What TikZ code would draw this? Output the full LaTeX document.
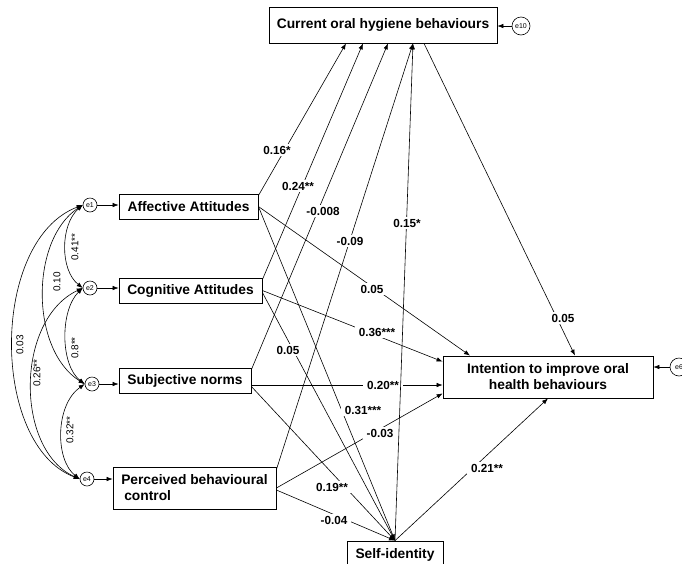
\documentclass[tikz,border=0pt]{standalone}
\usepackage{fontspec}
\setmainfont{Liberation Sans}
\usetikzlibrary{arrows.meta,calc}
\begin{document}
\begin{tikzpicture}[x=1pt,y=-1pt,
  box/.style={draw, line width=0.8pt, font=\fontsize{13.8}{16}\selectfont\bfseries, inner sep=0pt, anchor=center},
  err/.style={draw, circle, line width=0.6pt, inner sep=0pt, font=\fontsize{7}{8}\selectfont},
  reg/.style={line width=0.6pt, -{Latex[length=6pt,width=4.5pt]}},
  cov/.style={line width=0.6pt, {Latex[length=6pt,width=4.5pt]}-{Latex[length=6pt,width=4.5pt]}},
  coef/.style={fill=white, inner xsep=4pt, inner ysep=2pt, font=\fontsize{11.7}{13}\selectfont\bfseries},
  covlab/.style={rotate=90, inner sep=0pt, font=\fontsize{10}{12}\selectfont},
]
\useasboundingbox (0,0) rectangle (682,563);

% boxes
\node[box, minimum width=228pt, minimum height=36pt] (cur) at (383,25) {Current oral hygiene behaviours};
\node[box, minimum width=139pt, minimum height=25pt] (aff) at (188.5,206.5) {Affective Attitudes};
\node[box, minimum width=143pt, minimum height=25pt] (cog) at (190.5,290.5) {Cognitive Attitudes};
\node[box, minimum width=132pt, minimum height=25pt] (sub) at (185,380.5) {Subjective norms};
\node[box, minimum width=163pt, minimum height=42pt, align=left] (pbc) at (194.5,488) {Perceived behavioural\\\hspace*{3pt}control};
\node[box, minimum width=210pt, minimum height=42pt, align=center] (int) at (548,377) {Intention to improve oral\\health behaviours};
\node[box, minimum width=96pt, minimum height=27pt] (si) at (395,554.5) {Self-identity};

% error terms
\node[err, minimum size=18pt] (e10) at (521,26) {e10};
\node[err, minimum size=18pt] (e6) at (679,367) {e6};
\node[err, minimum size=14pt] (e1) at (90,205) {e1};
\node[err, minimum size=14pt] (e2) at (90,288) {e2};
\node[err, minimum size=14pt] (e3) at (92,384) {e3};
\node[err, minimum size=14pt] (e4) at (87,479) {e4};

\draw[reg] (e10) -- (e10 -| cur.east);
\draw[reg] (e6) -- (e6 -| int.east);
\draw[reg] (e1) -- (e1 -| aff.west);
\draw[reg] (e2) -- (e2 -| cog.west);
\draw[reg] (e3) -- (e3 -| sub.west);
\draw[reg] (e4) -- (e4 -| pbc.west);

% covariances
\draw[cov] (e1.west) .. controls (60,225) and (60,270) .. (e2.west);
\draw[cov] (e2.west) .. controls (60,310) and (60,365) .. (e3.west);
\draw[cov] (e3.west) .. controls (55,405) and (55,460) .. (e4.west);
\draw[cov] (e1.west) .. controls (30,240) and (30,350) .. (e3.west);
\draw[cov] (e2.west) .. controls (15,320) and (15,450) .. (e4.west);
\draw[cov] (e1.west) .. controls (-10,240) and (-10,445) .. (e4.west);
\node[covlab] (c12) at (75,247) {0.41**};
\node[covlab] (c23) at (75,348) {0.8**};
\node[covlab] (c34) at (70,430) {0.32**};
\node[covlab] (c13) at (57,282) {0.10};
\node[covlab] (c24) at (37,373) {0.26**};
\node[covlab] (c14) at (20,345) {0.03};

% paths to current behaviour
\draw[reg] ([yshift=-2pt]aff.north east) -- ([xshift=-37pt]cur.south);
\draw[reg] ([yshift=-2pt]cog.north east) -- ([xshift=-20pt]cur.south);
\draw[reg] ([yshift=-2pt]sub.north east) -- ([xshift=5pt]cur.south);
\draw[reg] ([yshift=-3pt]pbc.north east) -- ([xshift=30pt]cur.south);

% paths to intention
\draw[reg] ([xshift=41pt]cur.south) -- ([xshift=27pt]int.north);
\draw[reg] (aff.east) -- ([xshift=-78pt]int.north);
\draw[reg] (cog.east) -- ([yshift=-6pt]int.north west);
\draw[reg] ([yshift=-4.5pt]sub.east) -- ([yshift=-8pt]int.west);
\draw[reg] (pbc.east) -- ([yshift=5pt]int.south west);
\draw[reg] (si.north) -- (int.south);

% paths to self-identity
\draw[reg] (aff.east) -- (si.north);
\draw[reg] ([yshift=-2pt]cog.east) -- (si.north);
\draw[reg] ([yshift=-6pt]sub.east) -- (si.north);
\draw[reg] ([yshift=-2pt]pbc.east) -- (si.north);

% coefficients
\node[coef] (l1) at (277,150) {0.16*};
\node[coef] (l2) at (298,186) {0.24**};
\node[coef] (l3) at (323,211) {-0.008};
\node[coef] (l4) at (350,241) {-0.09};
\node[coef] (l6) at (372,289) {0.05};
\node[coef] (l7) at (377,332) {0.36***};
\node[coef] (l8) at (288,350) {0.05};
\node[coef] (l9) at (383,385) {0.20**};
\node[coef] (l10) at (363,410) {0.31***};
\node[coef] (l11) at (380,433) {-0.03};
\node[coef] (l12) at (332,487) {0.19**};
\node[coef] (l13) at (334,520) {-0.04};
\node[coef] (l14) at (487,468) {0.21**};
\node[coef] (l15) at (563,318) {0.05};

% self-identity to current behaviour (drawn over other labels)
\draw[reg] (si.north) -- ([xshift=30pt]cur.south);
\node[coef] (l5) at (407,223) {0.15*};
\end{tikzpicture}
\end{document}
